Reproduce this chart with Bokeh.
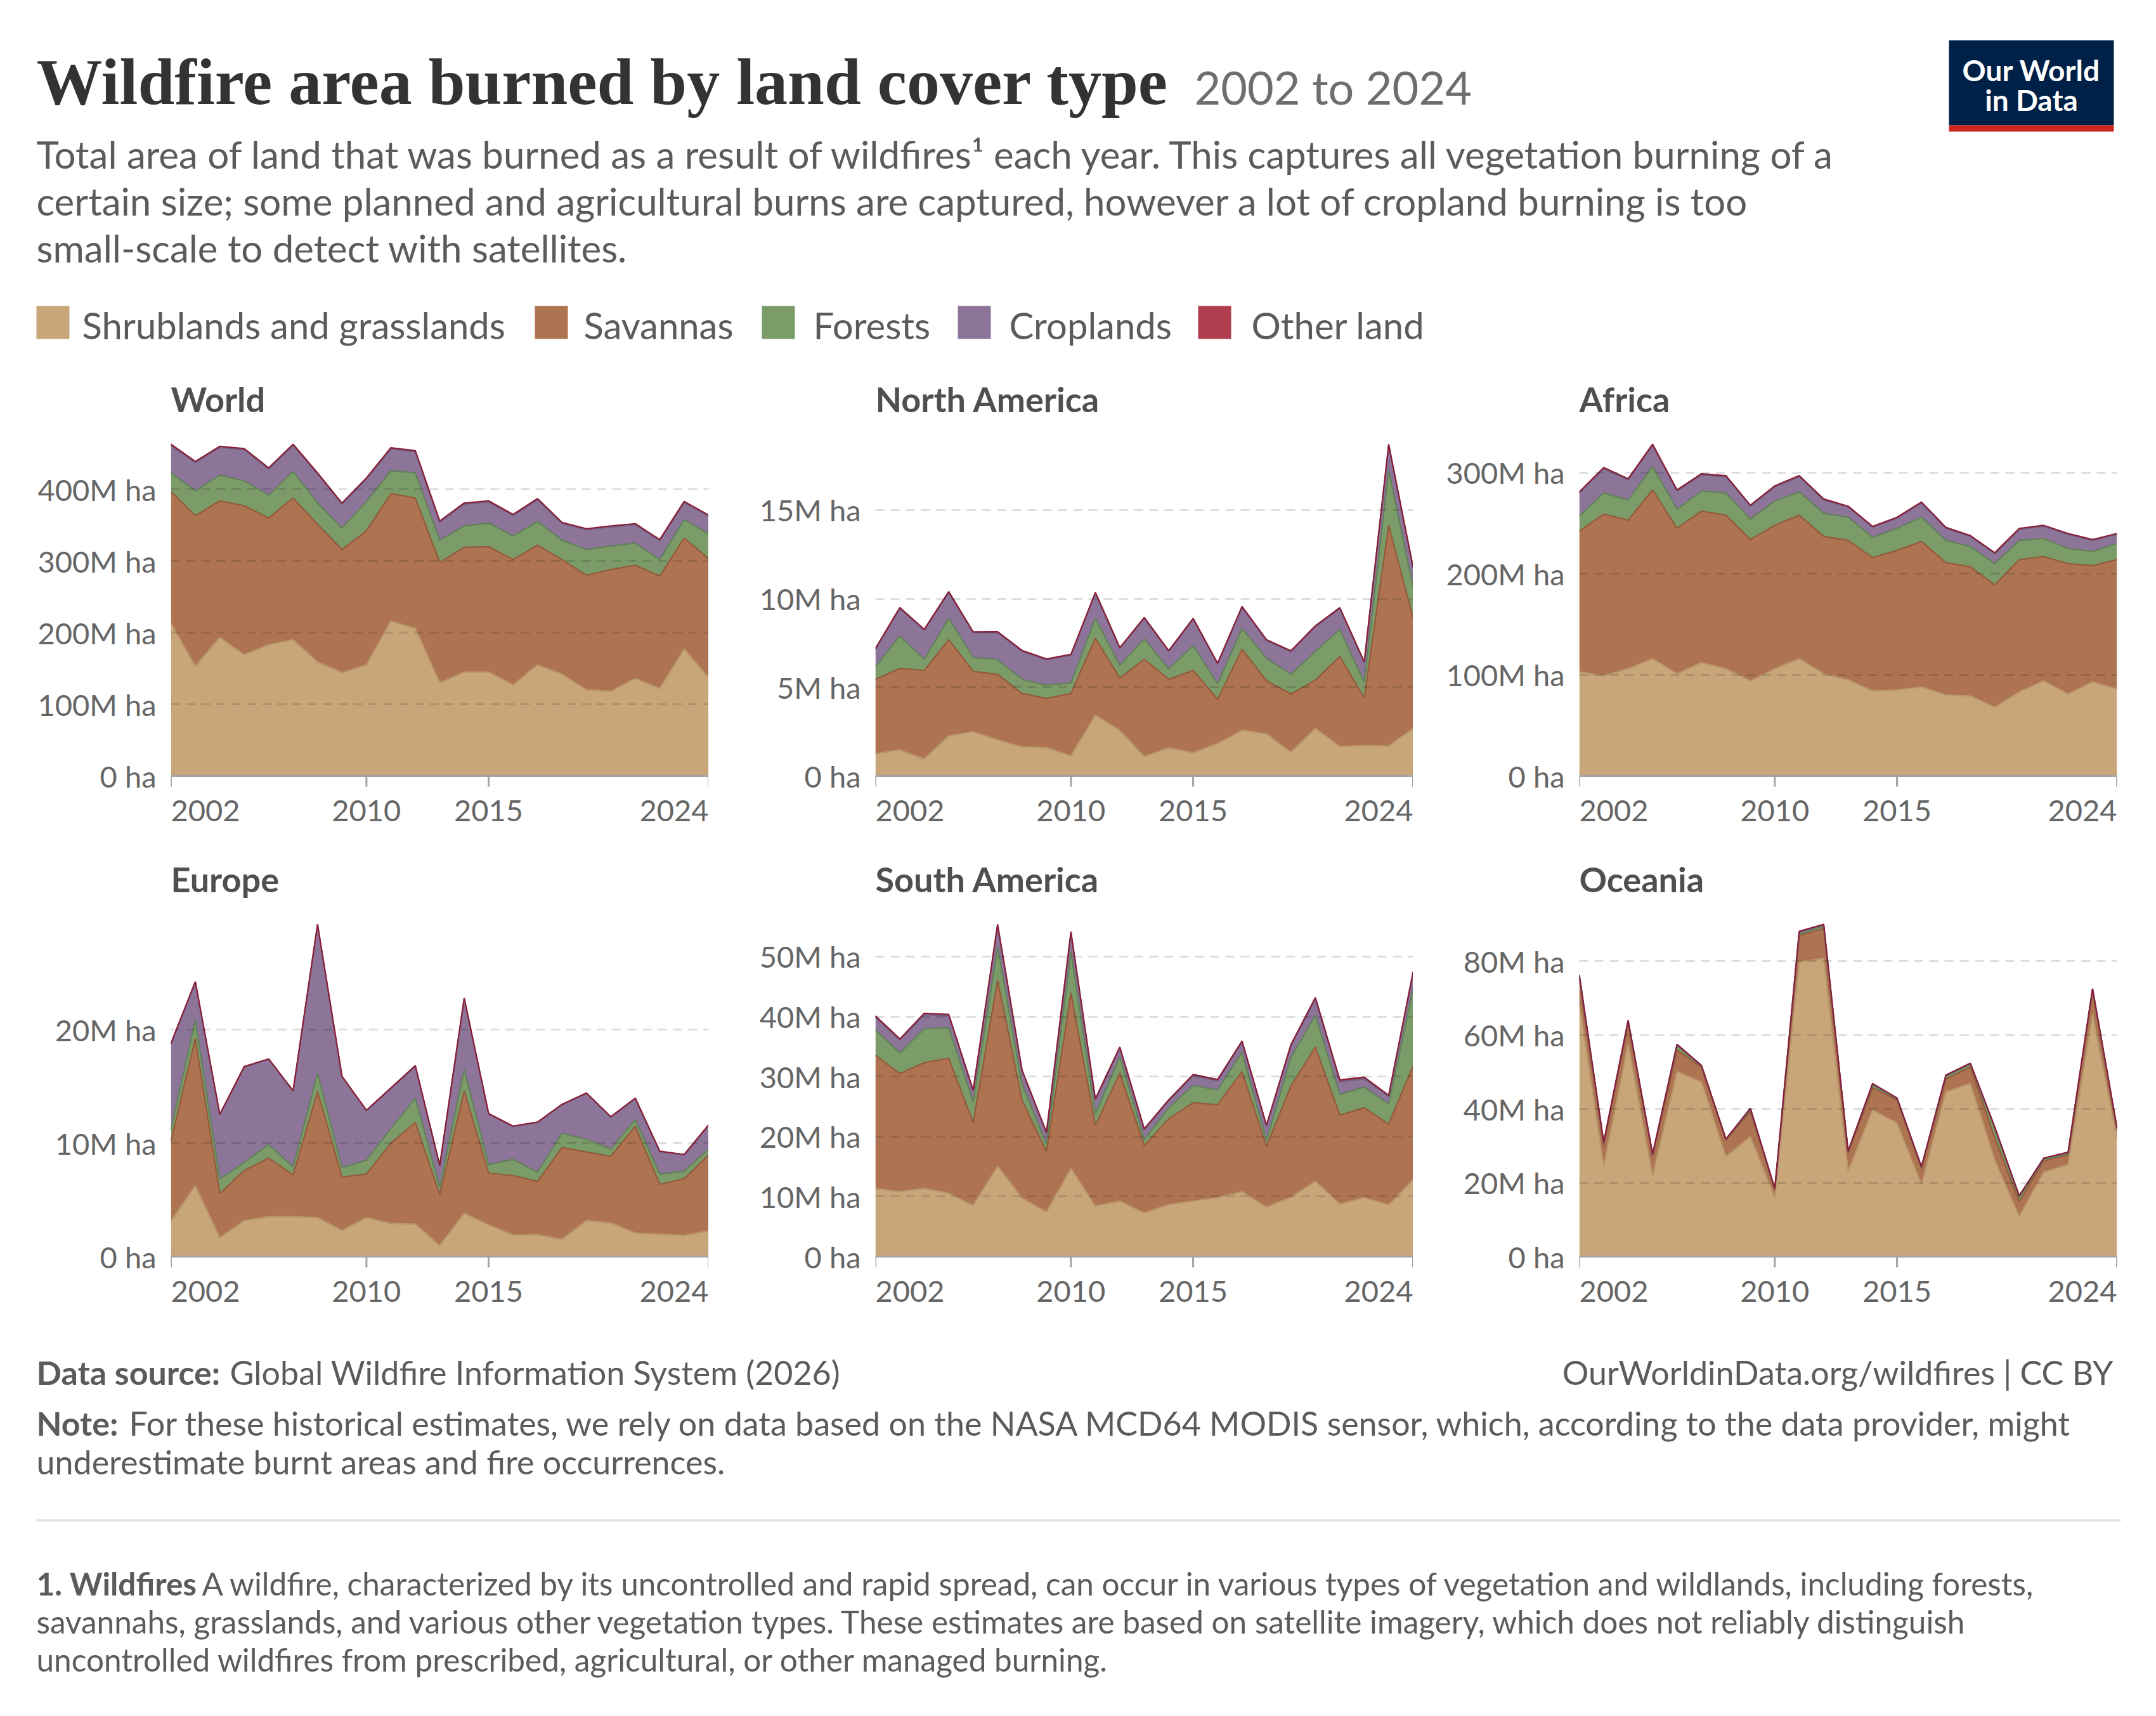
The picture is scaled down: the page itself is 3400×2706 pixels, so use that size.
from bokeh.plotting import figure
from bokeh.models import ColumnDataSource, Range1d, FixedTicker
from bokeh.layouts import column, row
from bokeh.embed import file_html
from bokeh.resources import INLINE
from bokeh.core.properties import value

years = list(range(2002, 2025))
categories = ["Shrublands and grasslands", "Savannas", "Forests", "Croplands", "Other land"]
x_tick_years = [2002, 2010, 2015, 2024]

# values in millions of hectares
world_shrub = [213, 153, 193, 169, 183, 190, 159, 144, 155, 216, 206, 130, 145, 145, 127, 155, 142, 120, 118, 136, 122, 177, 137]
world_savanna = [184, 210, 191, 208, 177, 198, 192, 172, 187, 178, 182, 168, 174, 175, 175, 167, 160, 160, 170, 158, 157, 155, 166]
world_forest = [26, 35, 36, 35, 32, 37, 30, 30, 41, 32, 35, 31, 30, 33, 33, 33, 27, 36, 33, 31, 23, 26, 35]
world_crop = [38.5, 39.5, 38.5, 43.5, 36.5, 36.5, 40.5, 33.5, 31.5, 30.5, 29.5, 25.5, 30.5, 29.5, 28.5, 30.5, 23.5, 27.5, 26.5, 25.5, 26.5, 23.5, 24.5]
world_other = [1.5, 1.5, 1.6, 1.4, 1.5, 1.5, 1.5, 1.3, 1.4, 1.6, 1.5, 1.2, 1.4, 1.5, 1.5, 1.6, 1.4, 1.5, 1.5, 1.6, 1.4, 1.7, 1.5]

na_shrub = [1.25, 1.46, 0.96, 2.26, 2.49, 2.03, 1.63, 1.59, 1.13, 3.42, 2.57, 1.08, 1.59, 1.30, 1.83, 2.57, 2.38, 1.33, 2.67, 1.66, 1.71, 1.69, 2.67]
na_savanna = [4.20, 4.60, 4.99, 5.43, 3.41, 3.70, 3.02, 2.78, 3.52, 4.35, 2.96, 5.50, 3.86, 4.65, 2.49, 4.57, 2.99, 3.29, 2.73, 5.08, 2.69, 12.45, 6.23]
na_forest = [0.71, 1.83, 0.63, 1.21, 0.79, 0.83, 0.80, 0.75, 0.60, 1.13, 0.70, 1.16, 0.58, 1.41, 0.88, 1.18, 1.27, 1.11, 1.63, 1.53, 0.88, 3.10, 1.75]
na_crop = [0.98, 1.55, 1.64, 1.45, 1.40, 1.53, 1.58, 1.44, 1.56, 1.40, 0.96, 1.15, 1.00, 1.48, 1.11, 1.18, 1.00, 1.28, 1.39, 1.17, 1.12, 1.40, 1.06]
na_other = [0.05, 0.06, 0.05, 0.05, 0.04, 0.05, 0.05, 0.04, 0.05, 0.06, 0.05, 0.05, 0.04, 0.05, 0.05, 0.06, 0.05, 0.05, 0.05, 0.06, 0.04, 0.08, 0.06]

af_shrub = [103, 99, 106, 116, 101, 112, 106, 94, 106, 116, 101, 95, 84, 85, 88, 80, 79, 68, 83, 94, 81, 93, 86]
af_savanna = [139, 160, 147, 167, 144, 150, 152, 140, 142, 142, 136, 138, 132, 138, 144, 131, 128, 121, 131, 123, 129, 115, 128]
af_forest = [15, 21, 20, 23, 19, 20, 22, 20, 24, 23, 23, 23, 20, 22, 24, 22, 20, 21, 19, 18, 15, 14, 16]
af_crop = [23, 24, 20, 21, 18, 16, 16, 13, 14, 15, 13, 10, 10, 10, 14, 12, 10, 10, 11, 12, 14, 11, 9]
af_other = [1.0, 1.1, 1.0, 1.2, 1.0, 1.0, 1.1, 0.9, 1.0, 1.1, 1.0, 0.9, 0.9, 0.9, 1.0, 0.9, 0.8, 0.8, 0.9, 0.9, 0.9, 0.8, 0.9]

eu_shrub = [3.12, 6.23, 1.66, 3.17, 3.51, 3.51, 3.43, 2.29, 3.43, 2.91, 2.86, 0.96, 3.82, 2.78, 1.90, 1.92, 1.51, 3.17, 2.96, 2.08, 1.97, 1.87, 2.26]
eu_savanna = [7.01, 12.99, 3.90, 4.41, 5.17, 3.68, 11.12, 4.72, 3.84, 7.09, 8.96, 4.49, 10.78, 4.57, 5.24, 4.70, 8.10, 6.05, 5.87, 9.40, 4.39, 4.99, 6.70]
eu_forest = [1.04, 1.64, 1.25, 0.73, 1.19, 0.73, 1.61, 0.83, 1.22, 1.30, 2.15, 0.65, 1.89, 0.75, 1.43, 0.83, 1.25, 1.12, 0.65, 0.60, 0.91, 0.67, 0.52]
eu_crop = [7.56, 3.32, 5.69, 8.39, 7.51, 6.65, 13.06, 8.01, 4.37, 3.51, 2.81, 1.90, 6.24, 4.45, 2.89, 4.37, 2.52, 4.03, 2.81, 1.84, 1.98, 1.43, 2.08]
eu_other = [0.05, 0.06, 0.04, 0.05, 0.05, 0.05, 0.07, 0.05, 0.04, 0.05, 0.05, 0.03, 0.06, 0.05, 0.04, 0.04, 0.04, 0.05, 0.04, 0.05, 0.04, 0.04, 0.05]

sa_shrub = [11.31, 10.82, 11.36, 10.57, 8.50, 15.07, 9.73, 7.41, 14.67, 8.40, 9.24, 7.26, 8.65, 9.24, 9.83, 10.82, 8.25, 9.88, 12.55, 8.75, 9.83, 8.60, 12.80]
sa_savanna = [22.24, 19.66, 20.95, 22.48, 13.83, 30.98, 16.31, 10.08, 29.25, 13.44, 21.34, 11.22, 14.32, 16.40, 15.47, 20.01, 10.13, 18.53, 22.38, 14.82, 14.97, 13.48, 19.02]
sa_forest = [4.20, 3.46, 5.68, 5.09, 3.46, 5.53, 2.71, 1.14, 6.92, 1.97, 2.72, 0.99, 1.83, 2.87, 2.47, 3.21, 0.99, 4.79, 5.29, 3.46, 3.46, 3.32, 12.84]
sa_crop = [2.17, 2.12, 2.32, 2.03, 1.78, 3.50, 2.13, 1.92, 3.00, 2.27, 1.43, 1.67, 1.14, 1.63, 1.53, 1.68, 2.37, 1.88, 2.66, 2.12, 1.38, 1.28, 2.52]
sa_other = [0.20, 0.20, 0.25, 0.20, 0.20, 0.30, 0.20, 0.15, 0.30, 0.20, 0.20, 0.15, 0.20, 0.20, 0.20, 0.20, 0.15, 0.25, 0.30, 0.30, 0.25, 0.20, 0.30]

oc_shrub = [68.8, 24.5, 57.6, 21.9, 50.1, 47.3, 27.1, 32.5, 16.0, 79.8, 80.8, 23.1, 39.7, 36.2, 19.5, 44.6, 46.9, 26.1, 10.9, 22.9, 24.9, 65.6, 31.9]
oc_savanna = [6.4, 5.6, 5.5, 5.4, 5.8, 4.0, 4.4, 6.8, 2.1, 7.2, 8.1, 5.0, 6.0, 6.3, 4.3, 3.5, 4.5, 6.0, 4.0, 3.0, 2.6, 6.3, 2.6]
oc_forest = [0.8, 0.6, 0.6, 0.3, 1.2, 0.3, 0.2, 0.6, 0.2, 0.5, 0.6, 0.3, 0.8, 0.3, 0.3, 0.7, 0.7, 2.5, 1.2, 0.4, 0.4, 0.4, 0.2]
oc_crop = [0.3, 0.2, 0.2, 0.1, 0.3, 0.1, 0.1, 0.2, 0.1, 0.5, 0.4, 0.1, 0.3, 0.1, 0.2, 0.3, 0.2, 0.4, 0.3, 0.3, 0.3, 0.2, 0.1]
oc_other = [0.12, 0.08, 0.10, 0.07, 0.11, 0.09, 0.06, 0.10, 0.05, 0.14, 0.15, 0.07, 0.10, 0.08, 0.06, 0.10, 0.11, 0.12, 0.09, 0.08, 0.09, 0.13, 0.10]

world_ticks = [0, 100, 200, 300, 400]
world_tick_labels = ["0 ha", "100M ha", "200M ha", "300M ha", "400M ha"]
na_ticks = [0, 5, 10, 15]
na_tick_labels = ["0 ha", "5M ha", "10M ha", "15M ha"]
af_ticks = [0, 100, 200, 300]
af_tick_labels = ["0 ha", "100M ha", "200M ha", "300M ha"]
eu_ticks = [0, 10, 20]
eu_tick_labels = ["0 ha", "10M ha", "20M ha"]
sa_ticks = [0, 10, 20, 30, 40, 50]
sa_tick_labels = ["0 ha", "10M ha", "20M ha", "30M ha", "40M ha", "50M ha"]
oc_ticks = [0, 20, 40, 60, 80]
oc_tick_labels = ["0 ha", "20M ha", "40M ha", "60M ha", "80M ha"]

FILLS = ["#c8a67a", "#ae7452", "#7b9b69", "#8c7599", "#b13e4f"]
LINES = ["#b8966a", "#94593a", "#62805a", "#735f82", "#8a1d36"]
KEYS = ["shrub", "savanna", "forest", "crop", "other"]

FONT = "Lato"
TXT = "#5b5b5b"
TICK = "#666666"
AXIS = "#a3a3a3"
TOTAL_W = 3384
BASE_FIX = 0.26   # svg alphabetic baseline is drawn about this many em lower
TICK_FS = 47
PTITLE_FS = 54


def panel(name, series, ticks, tick_labels, bl, br, top_px, plot_px, bottom_px):
    data = {"year": years}
    for k, s in zip(KEYS, series):
        data[k] = s
    src = ColumnDataSource(data)
    ymax = max(sum(v) for v in zip(*series))
    upp = ymax / plot_px
    p = figure(frame_width=848, frame_height=top_px + plot_px + bottom_px,
               x_range=Range1d(years[0], years[-1]),
               y_range=Range1d(-bottom_px * upp, ymax + top_px * upp),
               x_axis_type=None,
               output_backend="svg", toolbar_location=None,
               min_border_left=bl, min_border_right=br,
               min_border_top=0, min_border_bottom=0)
    p.varea_stack(stackers=KEYS, x="year", color=FILLS, source=src)
    p.vline_stack(stackers=KEYS, x="year", color=LINES, line_width=2.2, source=src)
    p.outline_line_color = None
    p.background_fill_color = "white"
    p.border_fill_color = "white"

    p.xgrid.visible = False
    p.ygrid.ticker = FixedTicker(ticks=ticks[1:])
    p.ygrid.grid_line_color = "#000000"
    p.ygrid.grid_line_alpha = 0.13
    p.ygrid.grid_line_dash = "14 10"
    p.ygrid.grid_line_width = 3
    p.ygrid.level = "overlay"

    p.yaxis.ticker = FixedTicker(ticks=ticks)
    p.yaxis.major_label_overrides = {t: lab for t, lab in zip(ticks, tick_labels)}
    p.yaxis.axis_line_color = None
    p.yaxis.major_tick_line_color = None
    p.yaxis.minor_tick_line_color = None
    p.yaxis.major_label_text_font = FONT
    p.yaxis.major_label_text_font_size = "%dpx" % TICK_FS
    p.yaxis.major_label_text_color = TICK
    p.yaxis.major_label_standoff = 17

    # x axis: baseline, ticks and year labels
    p.segment(x0=[years[0]], x1=[years[-1]], y0=[0], y1=[0], line_color=AXIS, line_width=3)
    p.segment(x0=x_tick_years, x1=x_tick_years, y0=[0] * len(x_tick_years),
              y1=[-17 * upp] * len(x_tick_years), line_color=AXIS, line_width=3)
    ly = -(67 - BASE_FIX * TICK_FS) * upp
    for align, yrs in (("left", [y for y in x_tick_years if y == years[0]]),
                       ("center", [y for y in x_tick_years if years[0] < y < years[-1]]),
                       ("right", [y for y in x_tick_years if y == years[-1]])):
        p.text(x=yrs, y=[ly] * len(yrs), text=[str(y) for y in yrs], text_align=align,
               text_baseline="alphabetic", text_font=value(FONT),
               text_font_size="%dpx" % TICK_FS, text_color=TICK)
    # panel title
    p.text(x=[years[0]], y=[ymax + (57 + BASE_FIX * PTITLE_FS) * upp], text=[name], text_align="left",
           text_baseline="alphabetic", text_font=value(FONT), text_font_style="bold",
           text_font_size="%dpx" % PTITLE_FS, text_color="#4f4f4f")
    return p


def by(y, fs):
    return y - BASE_FIX * fs


# ---------------- header ----------------
HH = 590
hdr = figure(width=TOTAL_W, height=HH, x_range=Range1d(0, TOTAL_W), y_range=Range1d(HH, 0),
             output_backend="svg", toolbar_location=None, min_border=0,
             x_axis_type=None, y_axis_type=None)
hdr.grid.visible = False
hdr.outline_line_color = None

hdr.text(x=[57], y=[by(155, 104)], text=["Wildfire area burned by land cover type"],
         text_font=value("Liberation Serif"), text_font_style="bold", text_font_size="104px",
         text_color="#333333", text_baseline="alphabetic")
hdr.text(x=[1883], y=[by(155, 72)], text=["2002 to 2024"], text_font=value(FONT),
         text_font_size="72px", text_color="#6e6e6e", text_baseline="alphabetic")

subtitle_lines = [
    "Total area of land that was burned as a result of wildfires\u00b9 each year. This captures all vegetation burning of a",
    "certain size; some planned and agricultural burns are captured, however a lot of cropland burning is too",
    "small-scale to detect with satellites.",
]
hdr.text(x=[57, 57, 57], y=[by(v, 60) for v in (258, 332, 406)], text=subtitle_lines,
         text_font=value(FONT), text_font_size="60px", text_color=TXT, text_baseline="alphabetic")

# legend
sq_x = [57, 843, 1201, 1510, 1889]
tx_x = [129, 920, 1282, 1591, 1973]
hdr.quad(left=sq_x, right=[x + 52 for x in sq_x], top=[482] * 5, bottom=[534] * 5,
         fill_color=FILLS, line_color=None)
hdr.text(x=tx_x, y=[by(527, 58)] * 5, text=categories, text_font=value(FONT), text_font_size="58px",
         text_color=TXT, text_baseline="alphabetic")

# logo
hdr.quad(left=[3073], right=[3333], top=[63], bottom=[197], fill_color="#002147", line_color=None)
hdr.quad(left=[3073], right=[3333], top=[197], bottom=[207], fill_color="#ce261e", line_color=None)
hdr.text(x=[3203, 3203], y=[by(122, 46), by(169, 46)], text=["Our World", "in Data"],
         text_font=value(FONT), text_font_style="bold", text_font_size="46px", text_color="white",
         text_align="center", text_baseline="alphabetic")

# ---------------- panels ----------------
p1 = panel("World", [world_shrub, world_savanna, world_forest, world_crop, world_other],
           world_ticks, world_tick_labels, 269, 0, 110, 523, 114)
p2 = panel("North America", [na_shrub, na_savanna, na_forest, na_crop, na_other],
           na_ticks, na_tick_labels, 263, 0, 110, 523, 114)
p3 = panel("Africa", [af_shrub, af_savanna, af_forest, af_crop, af_other],
           af_ticks, af_tick_labels, 262, 46, 110, 523, 114)
p4 = panel("Europe", [eu_shrub, eu_savanna, eu_forest, eu_crop, eu_other],
           eu_ticks, eu_tick_labels, 269, 0, 120, 524, 111)
p5 = panel("South America", [sa_shrub, sa_savanna, sa_forest, sa_crop, sa_other],
           sa_ticks, sa_tick_labels, 263, 0, 120, 524, 111)
p6 = panel("Oceania", [oc_shrub, oc_savanna, oc_forest, oc_crop, oc_other],
           oc_ticks, oc_tick_labels, 262, 46, 120, 524, 111)

# ---------------- footer ----------------
FH = 598
ftr = figure(width=TOTAL_W, height=FH, x_range=Range1d(0, TOTAL_W), y_range=Range1d(FH, 0),
             output_backend="svg", toolbar_location=None, min_border=0,
             x_axis_type=None, y_axis_type=None)
ftr.grid.visible = False
ftr.outline_line_color = None
FSA = 52     # source / note
FSB = 49.5   # footnote
ftr.text(x=[57, 57], y=[by(v, FSA) for v in (85, 165)], text=["Data source:", "Note:"],
         text_font=value(FONT), text_font_style="bold", text_font_size="%.1fpx" % FSA,
         text_color=TXT, text_baseline="alphabetic")
ftr.text(x=[362, 203, 57], y=[by(v, FSA) for v in (85, 165, 226)],
         text=["Global Wildfire Information System (2026)",
               "For these historical estimates, we rely on data based on the NASA MCD64 MODIS sensor, which, according to the data provider, might",
               "underestimate burnt areas and fire occurrences."],
         text_font=value(FONT), text_font_size="%.1fpx" % FSA, text_color=TXT, text_baseline="alphabetic")
ftr.text(x=[3332], y=[by(85, FSA)], text=["OurWorldinData.org/wildfires | CC BY"], text_font=value(FONT),
         text_font_size="%.1fpx" % FSA, text_color=TXT, text_align="right", text_baseline="alphabetic")
ftr.segment(x0=[57], x1=[3344], y0=[305], y1=[305], line_color="#e3e3e3", line_width=4)
ftr.text(x=[57], y=[by(417, FSB)], text=["1. Wildfires"],
         text_font=value(FONT), text_font_style="bold", text_font_size="%.1fpx" % FSB,
         text_color=TXT, text_baseline="alphabetic")
ftr.text(x=[318, 57, 57], y=[by(v, FSB) for v in (417, 477, 537)],
         text=["A wildfire, characterized by its uncontrolled and rapid spread, can occur in various types of vegetation and wildlands, including forests,",
               "savannahs, grasslands, and various other vegetation types. These estimates are based on satellite imagery, which does not reliably distinguish",
               "uncontrolled wildfires from prescribed, agricultural, or other managed burning."],
         text_font=value(FONT), text_font_size="%.1fpx" % FSB, text_color=TXT, text_baseline="alphabetic")

layout = column(hdr, row(p1, p2, p3), row(p4, p5, p6), ftr)
open("out.html", "w").write(file_html(layout, INLINE))
